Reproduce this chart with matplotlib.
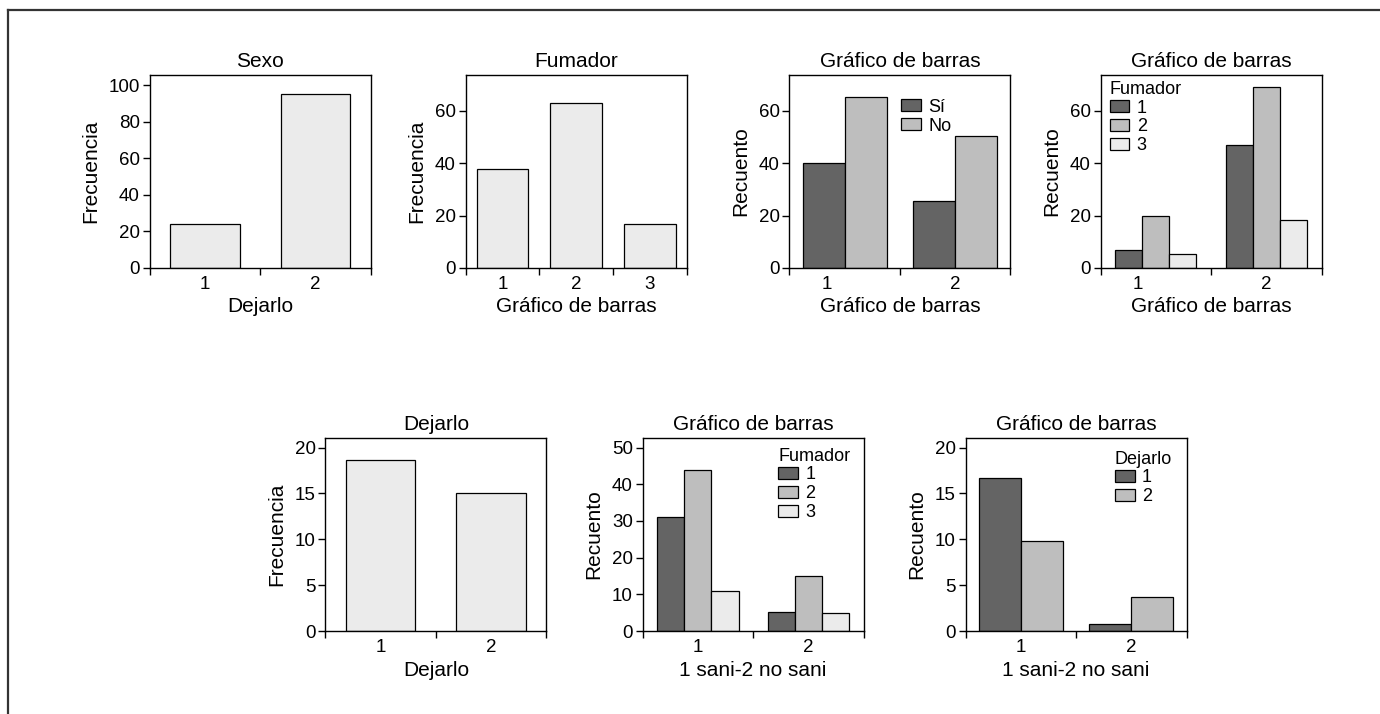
import numpy as np
import matplotlib.pyplot as plt
from matplotlib.lines import Line2D

plt.rcParams['font.family'] = ['Liberation Sans', 'DejaVu Sans']

# valores
sexo_cats = ['1', '2']
sexo_freq = [24, 95]

fumador_cats = ['1', '2', '3']
fumador_freq = [38, 63, 17]

sino_cats = ['1', '2']
sino_si = [40, 25.6]
sino_no = [65.5, 50.4]

fum_cats = ['1', '2']
fum_1 = [7, 47]
fum_2 = [20, 69]
fum_3 = [5.5, 18.4]

dejarlo_cats = ['1', '2']
dejarlo_freq = [18.7, 15]

sani_cats = ['1', '2']
sani_fum1 = [31, 5.3]
sani_fum2 = [44, 15]
sani_fum3 = [11, 5]

sani_dej1 = [16.7, 0.8]
sani_dej2 = [9.8, 3.7]

c_dark = '#646464'
c_mid = '#bebebe'
c_light = '#ebebeb'

W, H = 1380, 714
fig = plt.figure(figsize=(W / 100, H / 100), dpi=100)


def rect(left, top, w=221, h=193):
    return [left / W, 1 - (top + h) / H, w / W, h / H]


def setup(ax, labels, ylim, yticks, title, xlabel, ylabel, shift=0.0):
    n = len(labels)
    ax.set_xlim(0.5, n + 0.5)
    ax.set_ylim(0, ylim)
    ax.set_xticks(np.arange(0.5, n + 1, 1))
    ax.set_xticklabels([])
    pos = np.arange(1, n + 1, dtype=float)
    pos[0] += shift
    ax.set_xticks(pos, minor=True)
    ax.set_xticklabels(labels, minor=True)
    ax.set_yticks(yticks)
    ax.tick_params(axis='x', which='major', length=5, width=1, direction='out')
    ax.tick_params(axis='x', which='minor', length=0, pad=6, labelsize=13.5)
    ax.tick_params(axis='y', length=5, width=1, pad=2, labelsize=13.5)
    for s in ax.spines.values():
        s.set_linewidth(1.0)
    ax.set_title(title, fontsize=15, pad=6)
    ax.set_xlabel(xlabel, fontsize=15, labelpad=3)
    ax.set_ylabel(ylabel, fontsize=15, labelpad=6)


def grouped(ax, series, colors, width):
    k = len(series)
    x = np.arange(1, len(series[0]) + 1)
    for i, (vals, col) in enumerate(zip(series, colors)):
        off = (i - (k - 1) / 2) * width
        ax.bar(x + off, vals, width=width, color=col, edgecolor='black', linewidth=0.9)


bar_kw = dict(color=c_light, edgecolor='black', linewidth=0.9)
leg_kw = dict(frameon=False, fontsize=13, handlelength=1.1, handleheight=0.65,
              handletextpad=0.4, labelspacing=0.1, borderpad=0, borderaxespad=0,
              title_fontsize=13)

# Sexo
ax1 = fig.add_axes(rect(149.6, 75))
ax1.bar(np.arange(1, 3), sexo_freq, width=0.63, **bar_kw)
setup(ax1, sexo_cats, 105.5, [0, 20, 40, 60, 80, 100], 'Sexo', 'Dejarlo', 'Frecuencia')

# Fumador
ax2 = fig.add_axes(rect(465.6, 75))
ax2.bar(np.arange(1, 4), fumador_freq, width=0.7, **bar_kw)
setup(ax2, fumador_cats, 73.75, [0, 20, 40, 60], 'Fumador', 'Gráfico de barras', 'Frecuencia')

# Si / No
ax3 = fig.add_axes(rect(789.4, 75))
grouped(ax3, [sino_si, sino_no], [c_dark, c_mid], 0.38)
setup(ax3, sino_cats, 73.75, [0, 20, 40, 60], 'Gráfico de barras', 'Gráfico de barras',
      'Recuento', shift=-0.16)
ax3.legend([ax3.patches[0], ax3.patches[2]], ['Sí', 'No'], loc='upper left',
           bbox_to_anchor=(0.505, 0.877), **leg_kw)

# Fumador por grupo
ax4 = fig.add_axes(rect(1100.5, 75))
grouped(ax4, [fum_1, fum_2, fum_3], [c_dark, c_mid, c_light], 0.245)
setup(ax4, fum_cats, 73.75, [0, 20, 40, 60], 'Gráfico de barras', 'Gráfico de barras',
      'Recuento', shift=-0.165)
ax4.legend([ax4.patches[0], ax4.patches[2], ax4.patches[4]], ['1', '2', '3'],
           title='Fumador', alignment='left', loc='upper left',
           bbox_to_anchor=(0.041, 0.97), **leg_kw)

# Dejarlo
ax5 = fig.add_axes(rect(325.4, 438))
ax5.bar(np.arange(1, 3), dejarlo_freq, width=0.63, **bar_kw)
setup(ax5, dejarlo_cats, 21.05, [0, 5, 10, 15, 20], 'Dejarlo', 'Dejarlo', 'Frecuencia')

# sani / Fumador
ax6 = fig.add_axes(rect(642.6, 438))
grouped(ax6, [sani_fum1, sani_fum2, sani_fum3], [c_dark, c_mid, c_light], 0.246)
setup(ax6, sani_cats, 52.6, [0, 10, 20, 30, 40, 50], 'Gráfico de barras', '1 sani-2 no sani',
      'Recuento')
ax6.legend([ax6.patches[0], ax6.patches[2], ax6.patches[4]], ['1', '2', '3'],
           title='Fumador', alignment='left', loc='upper left',
           bbox_to_anchor=(0.614, 0.95), **leg_kw)

# sani / Dejarlo
ax7 = fig.add_axes(rect(965.5, 438))
grouped(ax7, [sani_dej1, sani_dej2], [c_dark, c_mid], 0.38)
setup(ax7, sani_cats, 21.05, [0, 5, 10, 15, 20], 'Gráfico de barras', '1 sani-2 no sani',
      'Recuento')
ax7.legend([ax7.patches[0], ax7.patches[2]], ['1', '2'],
           title='Dejarlo', alignment='left', loc='upper left',
           bbox_to_anchor=(0.676, 0.935), **leg_kw)

# marco exterior (solo arriba e izquierda)
fx, fy = 8 / W, 1 - 10 / H
fig.add_artist(Line2D([fx, fx], [0, fy], color='#333333', lw=1.6))
fig.add_artist(Line2D([fx, 1], [fy, fy], color='#333333', lw=1.6))

fig.savefig('out.png', dpi=100)
